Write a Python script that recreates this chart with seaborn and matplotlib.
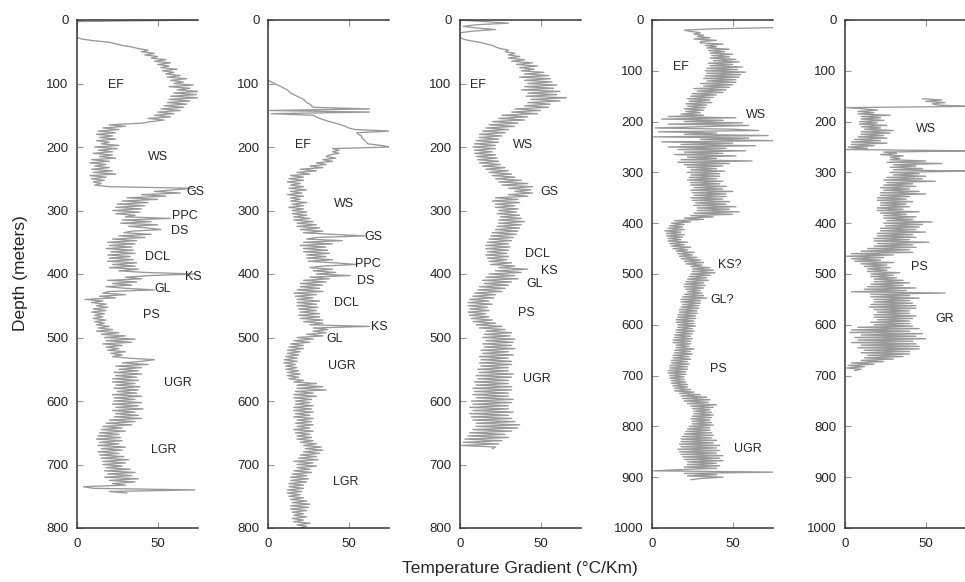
import numpy as np
import pandas as pd
import matplotlib
matplotlib.use("Agg")
import matplotlib.pyplot as plt
import seaborn as sns

# depth sampling: every 2.5 m from the first reading
step = 2.5

# well 1 (0 - 745 m)
start1 = 0
grad1 = [75, 0, 0, 0, 0, 0, 0, 0, 0, 0, 0, 0,
         3, 10, 20, 24, 28, 34, 38, 44, 40, 48, 42, 50,
         46, 55, 48, 58, 50, 57, 52, 62, 53, 60, 55, 64,
         56, 68, 58, 66, 60, 72, 57, 70, 62, 76, 60, 74,
         58, 75, 57, 70, 56, 68, 54, 66, 52, 64, 50, 60,
         48, 58, 44, 54, 46, 40, 20, 30, 16, 26, 13, 24,
         12, 22, 14, 24, 12, 20, 15, 26, 11, 25, 13, 22,
         10, 22, 14, 24, 9, 20, 8, 18, 11, 20, 9, 22,
         10, 24, 8, 18, 9, 17, 10, 15, 11, 20, 72, 60,
         48, 64, 40, 55, 31, 50, 28, 44, 25, 42, 24, 40,
         22, 39, 24, 36, 30, 58, 28, 46, 27, 50, 32, 44,
         52, 34, 29, 46, 26, 42, 22, 37, 19, 36, 20, 34,
         18, 35, 21, 36, 19, 33, 20, 35, 19, 37, 22, 36,
         20, 38, 26, 42, 73, 45, 30, 40, 19, 37, 22, 34,
         18, 30, 48, 20, 16, 30, 14, 24, 5, 16, 9, 18,
         12, 19, 10, 18, 9, 17, 11, 16, 10, 18, 11, 17,
         12, 20, 13, 22, 12, 26, 15, 30, 17, 36, 18, 34,
         16, 28, 18, 26, 19, 30, 21, 28, 22, 32, 48, 40,
         28, 44, 24, 40, 26, 38, 23, 40, 24, 37, 22, 38,
         22, 36, 24, 39, 23, 38, 25, 37, 22, 40, 23, 36,
         23, 40, 22, 38, 24, 41, 22, 36, 24, 38, 23, 40,
         20, 36, 18, 34, 16, 28, 15, 30, 14, 26, 13, 27,
         12, 28, 14, 26, 13, 30, 15, 28, 13, 26, 14, 29,
         15, 32, 16, 30, 16, 28, 18, 33, 17, 36, 19, 34,
         17, 38, 20, 36, 22, 30, 4, 10, 73, 20, 31]
labels1 = [("EF", 19, 103), ("WS", 44, 216), ("GS", 68, 271), ("PPC", 59, 309),
           ("DS", 58, 333), ("DCL", 42, 374), ("KS", 67, 404), ("GL", 48, 424),
           ("PS", 41, 465), ("UGR", 54, 571), ("LGR", 46, 677)]

# well 2 (95 - 800 m)
start2 = 95
grad2 = [0, 2, 4, 6, 8, 10, 12, 13, 14, 16, 18, 20,
         22, 23, 24, 26, 27, 28, 63, 1, 63, 2, 28, 30,
         32, 35, 38, 42, 45, 48, 50, 54, 76, 55, 56, 58,
         58, 59, 60, 61, 62, 70, 76, 40, 44, 40, 44, 38,
         36, 42, 34, 40, 30, 36, 26, 34, 20, 30, 18, 26,
         14, 22, 13, 22, 12, 20, 14, 22, 13, 24, 14, 21,
         12, 22, 14, 20, 14, 24, 15, 22, 13, 22, 15, 24,
         15, 24, 16, 26, 16, 28, 18, 30, 18, 32, 20, 34,
         22, 40, 60, 30, 24, 46, 22, 40, 20, 36, 22, 37,
         22, 38, 24, 36, 24, 40, 25, 42, 55, 34, 26, 40,
         28, 42, 30, 51, 26, 38, 22, 36, 20, 34, 20, 32,
         18, 34, 16, 30, 17, 28, 18, 32, 18, 30, 18, 31,
         19, 30, 20, 32, 19, 32, 20, 34, 22, 34, 26, 63,
         28, 37, 28, 36, 24, 34, 18, 28, 16, 26, 14, 22,
         13, 22, 12, 20, 12, 19, 11, 18, 10, 18, 10, 17,
         11, 18, 11, 19, 12, 20, 12, 19, 13, 22, 16, 30,
         18, 34, 18, 36, 17, 28, 16, 30, 16, 27, 17, 26,
         17, 28, 16, 27, 16, 28, 17, 26, 16, 28, 18, 27,
         17, 28, 18, 26, 16, 28, 17, 26, 18, 27, 18, 28,
         20, 30, 22, 33, 23, 34, 22, 32, 20, 30, 19, 31,
         16, 28, 18, 30, 18, 26, 16, 27, 15, 24, 14, 25,
         14, 24, 13, 22, 13, 22, 12, 21, 12, 20, 13, 22,
         14, 24, 15, 26, 14, 25, 14, 24, 15, 22, 16, 24,
         15, 22, 16, 26, 18, 24, 20]
labels2 = [("EF", 17, 197), ("WS", 41, 289), ("GS", 60, 342), ("PPC", 54, 384),
           ("DS", 55, 411), ("DCL", 41, 446), ("KS", 64, 484), ("GL", 36, 503),
           ("UGR", 37, 545), ("LGR", 40, 727)]

# well 3 (0 - 675 m)
start3 = 0
grad3 = [0, 15, 30, 10, 2, 10, 22, 8, 0, 0, 0, 0,
         2, 6, 12, 16, 20, 22, 25, 30, 28, 34, 30, 37,
         30, 40, 32, 45, 35, 48, 37, 46, 38, 52, 40, 55,
         37, 56, 40, 57, 42, 60, 40, 58, 38, 62, 42, 60,
         41, 66, 44, 62, 42, 56, 40, 55, 34, 50, 32, 48,
         26, 42, 24, 40, 20, 36, 18, 34, 16, 30, 14, 28,
         12, 26, 12, 24, 10, 24, 9, 22, 8, 22, 9, 20,
         9, 22, 10, 23, 11, 24, 12, 25, 14, 28, 16, 30,
         18, 32, 20, 34, 22, 38, 24, 42, 26, 45, 30, 44,
         34, 45, 30, 42, 22, 36, 20, 37, 22, 34, 22, 36,
         24, 35, 23, 37, 25, 38, 24, 40, 24, 38, 23, 37,
         22, 36, 20, 35, 19, 33, 18, 32, 17, 30, 16, 31,
         16, 30, 17, 29, 16, 30, 17, 29, 18, 32, 19, 34,
         24, 42, 22, 38, 18, 34, 16, 36, 14, 32, 15, 30,
         12, 28, 11, 26, 9, 22, 8, 21, 6, 18, 5, 20,
         5, 17, 6, 18, 5, 16, 6, 18, 7, 20, 8, 22,
         10, 26, 12, 28, 16, 32, 15, 31, 14, 34, 16, 33,
         14, 32, 15, 34, 13, 30, 14, 33, 12, 30, 13, 32,
         12, 32, 13, 30, 11, 30, 12, 33, 10, 32, 11, 30,
         9, 30, 10, 32, 8, 32, 9, 30, 8, 30, 10, 33,
         7, 32, 8, 30, 6, 30, 8, 33, 6, 30, 7, 32,
         8, 34, 10, 37, 10, 36, 8, 32, 6, 28, 5, 30,
         3, 26, 2, 24, 1, 22, 20]
labels3 = [("EF", 6, 103), ("WS", 33, 197), ("GS", 50, 271), ("DCL", 40, 368),
           ("KS", 50, 395), ("GL", 41, 416), ("PS", 36, 462), ("UGR", 39, 566)]

# well 4 (15 - 905 m)
start4 = 15
grad4 = [76, 37, 20, 24, 30, 26, 32, 28, 36, 26, 40, 30,
         30, 44, 33, 40, 34, 48, 35, 45, 36, 50, 37, 48,
         36, 52, 38, 54, 35, 50, 36, 56, 34, 53, 33, 58,
         34, 55, 33, 54, 32, 52, 34, 52, 30, 50, 32, 48,
         26, 46, 28, 44, 25, 40, 24, 38, 22, 36, 23, 37,
         21, 34, 22, 33, 20, 32, 21, 30, 18, 32, 10, 52,
         6, 44, 20, 56, 10, 60, 30, 2, 50, 66, 4, 40,
         20, 72, 1, 60, 30, 76, 6, 50, 18, 64, 10, 46,
         16, 58, 20, 44, 14, 52, 22, 40, 18, 62, 16, 48,
         20, 44, 22, 40, 24, 45, 22, 42, 24, 42, 23, 40,
         22, 44, 24, 42, 24, 46, 26, 44, 24, 50, 25, 46,
         26, 46, 24, 44, 25, 48, 27, 46, 26, 52, 28, 48,
         28, 54, 26, 50, 24, 38, 20, 32, 14, 24, 12, 20,
         11, 19, 10, 20, 8, 18, 9, 20, 9, 19, 10, 18,
         10, 22, 11, 20, 12, 24, 13, 22, 15, 26, 16, 25,
         17, 28, 18, 30, 20, 32, 21, 31, 24, 36, 25, 38,
         25, 39, 24, 36, 23, 34, 22, 35, 21, 32, 20, 33,
         20, 32, 21, 30, 22, 31, 20, 32, 19, 34, 18, 30,
         18, 30, 19, 29, 18, 29, 17, 28, 17, 28, 16, 27,
         16, 27, 15, 26, 15, 26, 16, 27, 16, 25, 15, 26,
         15, 25, 14, 24, 14, 25, 13, 24, 13, 24, 15, 23,
         15, 26, 14, 24, 14, 25, 13, 23, 13, 24, 12, 22,
         12, 23, 11, 22, 11, 22, 10, 21, 10, 21, 11, 20,
         11, 20, 12, 21, 12, 22, 13, 22, 14, 24, 14, 26,
         17, 30, 18, 34, 19, 36, 20, 35, 22, 40, 24, 38,
         25, 36, 26, 37, 26, 38, 25, 37, 24, 36, 25, 37,
         25, 38, 23, 36, 22, 36, 21, 37, 20, 38, 19, 37,
         18, 40, 18, 38, 17, 42, 18, 40, 16, 42, 17, 40,
         18, 44, 19, 42, 20, 44, 22, 40, 22, 42, 20, 40,
         18, 1, 76, 20, 40, 22, 44, 30, 24]
labels4 = [("EF", 13, 92), ("WS", 58, 187), ("KS?", 41, 483), ("GL?", 36, 551),
           ("PS", 36, 687), ("UGR", 51, 845)]

# well 5 (155 - 690 m)
start5 = 155
grad5 = [48, 60, 50, 62, 54, 58, 76, 1, 12, 20, 8, 18,
         8, 28, 10, 22, 10, 24, 9, 20, 9, 26, 10, 22,
         12, 30, 10, 28, 10, 24, 8, 26, 6, 22, 4, 26,
         4, 18, 2, 14, 1, 76, 24, 32, 22, 36, 28, 34,
         28, 50, 26, 60, 30, 44, 28, 48, 30, 76, 28, 46,
         30, 50, 26, 48, 24, 56, 26, 42, 24, 44, 22, 40,
         24, 46, 22, 50, 22, 40, 20, 38, 20, 42, 22, 38,
         22, 40, 20, 36, 20, 46, 22, 38, 24, 44, 24, 42,
         26, 54, 24, 48, 25, 46, 22, 44, 22, 50, 20, 42,
         20, 44, 18, 40, 18, 52, 20, 42, 18, 44, 14, 40,
         10, 42, 4, 30, 1, 24, 4, 22, 6, 30, 10, 26,
         12, 28, 14, 26, 14, 34, 16, 30, 16, 32, 18, 36,
         18, 40, 16, 36, 14, 44, 12, 38, 4, 62, 16, 40,
         16, 46, 18, 40, 18, 42, 16, 44, 15, 44, 18, 40,
         20, 40, 18, 44, 18, 42, 20, 40, 16, 40, 18, 42,
         8, 46, 4, 40, 3, 48, 10, 44, 6, 50, 8, 42,
         4, 44, 10, 46, 8, 46, 12, 40, 10, 40, 14, 36,
         12, 30, 10, 24, 4, 18, 2, 12, 1, 10, 6]
labels5 = [("WS", 44, 214), ("PS", 41, 487), ("GR", 56, 588)]

wells = [(start1, grad1, labels1, 800), (start2, grad2, labels2, 800),
         (start3, grad3, labels3, 800), (start4, grad4, labels4, 1000),
         (start5, grad5, labels5, 1000)]

sns.set_style("ticks")
plt.rcParams["font.family"] = ["Liberation Sans", "DejaVu Sans"]

fig = plt.figure(figsize=(9.65, 5.82), dpi=100)
lefts = [77, 268, 460, 652, 845]

for i, (start, grad, labels, dmax) in enumerate(wells):
    ax = fig.add_axes([lefts[i] / 965, 54 / 582, 121 / 965, 508 / 582])
    df = pd.DataFrame({"depth": start + step * np.arange(len(grad)), "grad": grad})
    sns.lineplot(data=df, x="grad", y="depth", orient="y", sort=False, estimator=None,
                 color="#999999", linewidth=0.95, ax=ax)
    for name, gx, gy in labels:
        ax.text(gx, gy, name, fontsize=9, ha="left", va="center", zorder=5)
    ax.set_xlim(0, 75)
    ax.set_ylim(dmax, 0)
    ax.set_xticks([0, 50])
    ax.set_yticks(np.arange(0, dmax + 1, 100))
    ax.set_xlabel("")
    ax.set_ylabel("")
    ax.spines["right"].set_visible(False)
    for s in ["left", "top", "bottom"]:
        ax.spines[s].set_color("#333333")
        ax.spines[s].set_linewidth(1.1)
    ax.tick_params(direction="in", length=4, color="#999999", labelsize=9.5,
                   top=True, labeltop=False)
    ax.tick_params(axis="x", pad=7)
    ax.tick_params(axis="y", pad=6)

fig.text(0.021, 0.53, "Depth (meters)", rotation=90, ha="center", va="center", fontsize=12.5)
fig.text(520 / 965, 0.024, "Temperature Gradient (°C/Km)", ha="center", va="center",
         fontsize=12.5)

fig.savefig("out.png", dpi=100)
